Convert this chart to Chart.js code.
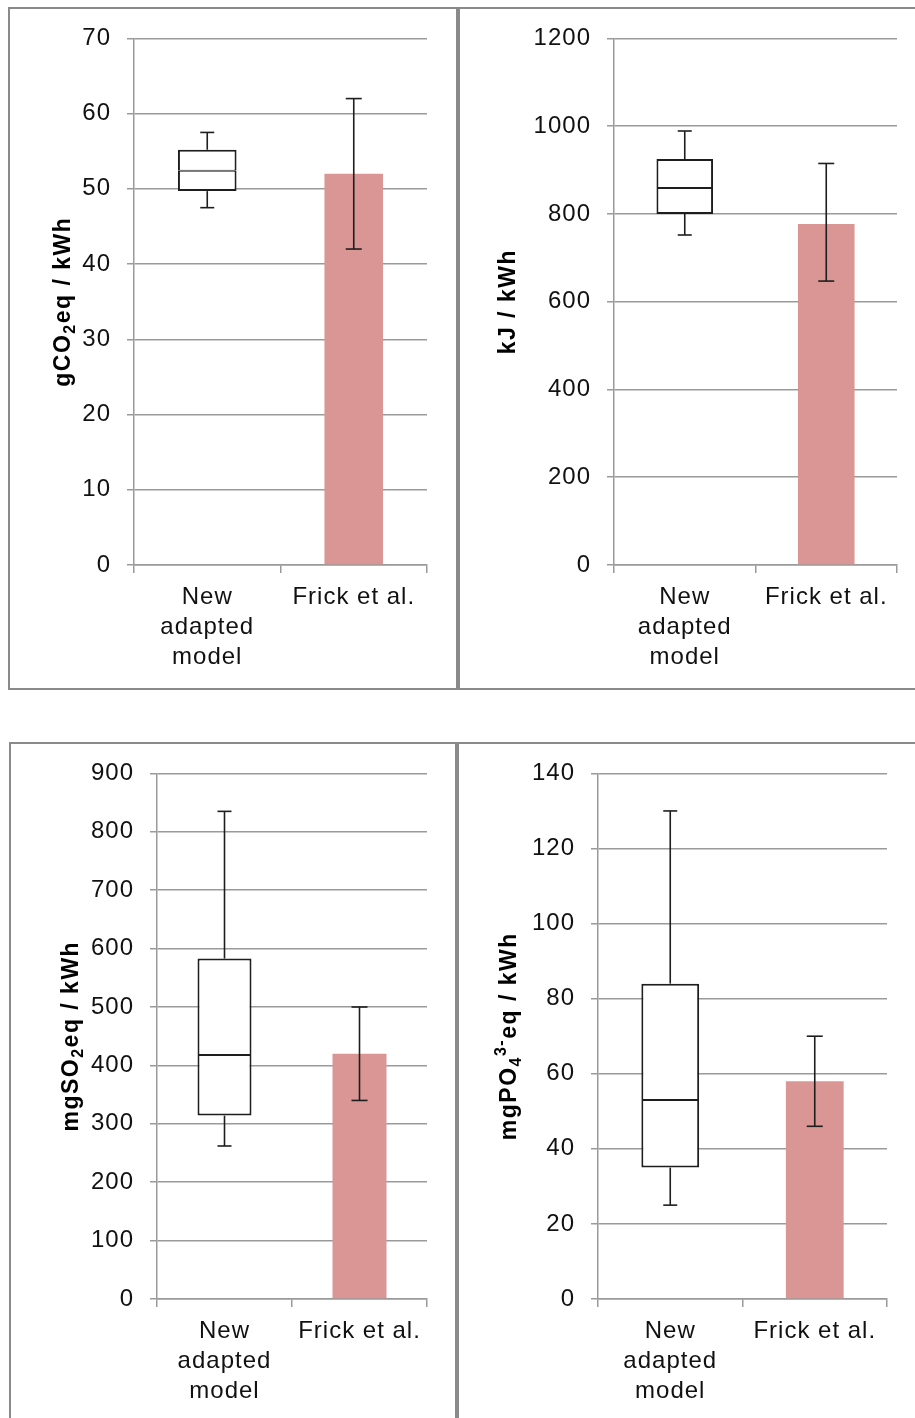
<!DOCTYPE html>
<html>
<head>
<meta charset="utf-8">
<script src="https://cdn.jsdelivr.net/npm/chart.js@4.4.1/dist/chart.umd.min.js"></script>
<style>
  body { margin: 0; background: #fff; width: 915px; height: 1418px; position: relative; overflow: hidden; }
  .frame { position: absolute; border: 2px solid #8a8a8a; box-sizing: border-box; }
  canvas { position: absolute; }
</style>
</head>
<body>
<div class="frame" style="left:8px;top:7px;width:450px;height:683px"></div>
<div class="frame" style="left:458px;top:7px;width:470px;height:683px"></div>
<div class="frame" style="left:9px;top:742px;width:448px;height:700px"></div>
<div class="frame" style="left:457px;top:742px;width:470px;height:700px"></div>
<canvas id="c0"></canvas>
<canvas id="c1"></canvas>
<canvas id="c2"></canvas>
<canvas id="c3"></canvas>
<script>
// categories and axis ranges
var categories = [['New', 'adapted', 'model'], 'Frick et al.'];
var yMax  = [70, 1200, 900, 140];
var yStep = [10, 200, 100, 20];

// axis titles, split into [text, script] pieces (0 normal, -1 subscript, 1 superscript)
var titleParts = [
  [['gCO', 0], ['2', -1], ['eq / kWh', 0]],
  [['kJ / kWh', 0]],
  [['mgSO', 0], ['2', -1], ['eq / kWh', 0]],
  [['mgPO', 0], ['4', -1], ['3-', 1], ['eq / kWh', 0]]
];

// new adapted model (box plot)
var newMin    = [47.5, 752, 262, 25];
var newQ1     = [49.7, 800, 314, 35];
var newMedian = [52.4, 859, 418, 53];
var newQ3     = [55.2, 925, 583, 84];
var newMax    = [57.5, 989, 835, 130];

// Frick et al. (bar + error range)
var frickValue = [52, 777, 420, 58];
var frickLow   = [42, 647, 340, 46];
var frickHigh  = [62, 915, 500, 70];

// where each chart sits on the page
var panels = [
  { left: 9,   top: 8,   width: 447, height: 680, axisW: 125, padRight: 29, axisH: 123, titleX: 55 },
  { left: 459, top: 8,   width: 456, height: 680, axisW: 155, padRight: 18, axisH: 123, titleX: 50 },
  { left: 10,  top: 743, width: 445, height: 675, axisW: 147, padRight: 28, axisH: 119, titleX: 62 },
  { left: 458, top: 743, width: 457, height: 675, axisW: 140, padRight: 28, axisH: 119, titleX: 52 }
];

var gridColor = '#9a9a9a';
var inkColor = '#1e1e1e';
var frickColor = '#d99694';

Chart.defaults.font.family = '"Liberation Sans", Arial, sans-serif';
Chart.defaults.color = '#111';

var spacing = {
  id: 'spacing',
  beforeUpdate: function (chart) { chart.ctx.letterSpacing = '1px'; },
  beforeDraw: function (chart) { chart.ctx.letterSpacing = '1px'; }
};

function whiskers(i) {
  return {
    id: 'whiskers',
    afterDatasetsDraw: function (chart) {
      var ctx = chart.ctx, x = chart.scales.x, y = chart.scales.y;
      ctx.save();
      ctx.strokeStyle = inkColor;
      ctx.lineWidth = 1.6;
      function vline(px, a, b) {
        ctx.beginPath();
        ctx.moveTo(px, y.getPixelForValue(a));
        ctx.lineTo(px, y.getPixelForValue(b));
        ctx.stroke();
      }
      function cap(px, v, w) {
        var py = y.getPixelForValue(v);
        ctx.beginPath();
        ctx.moveTo(px - w / 2, py);
        ctx.lineTo(px + w / 2, py);
        ctx.stroke();
      }
      var x0 = x.getPixelForValue(0);
      vline(x0, newQ3[i], newMax[i]);
      vline(x0, newMin[i], newQ1[i]);
      cap(x0, newMax[i], 14);
      cap(x0, newMin[i], 14);
      var x1 = x.getPixelForValue(1);
      vline(x1, frickLow[i], frickHigh[i]);
      cap(x1, frickHigh[i], 16);
      cap(x1, frickLow[i], 16);
      ctx.restore();
    }
  };
}

function axisTitle(i) {
  return {
    id: 'axisTitle',
    afterDraw: function (chart) {
      var ctx = chart.ctx, area = chart.chartArea;
      var size = 23;
      var parts = titleParts[i];
      ctx.save();
      ctx.letterSpacing = '1.5px';
      ctx.fillStyle = '#000';
      ctx.textBaseline = 'middle';
      function fontFor(s) {
        return 'bold ' + (s === 0 ? size : Math.round(size * 0.68)) + 'px "Liberation Sans", Arial, sans-serif';
      }
      var total = 0;
      parts.forEach(function (p) { ctx.font = fontFor(p[1]); total += ctx.measureText(p[0]).width; });
      ctx.translate(panels[i].titleX, (area.top + area.bottom) / 2);
      ctx.rotate(-Math.PI / 2);
      var pos = -total / 2;
      parts.forEach(function (p) {
        ctx.font = fontFor(p[1]);
        var dy = p[1] === -1 ? size * 0.3 : (p[1] === 1 ? -size * 0.38 : 0);
        ctx.fillText(p[0], pos, dy);
        pos += ctx.measureText(p[0]).width;
      });
      ctx.restore();
    }
  };
}

function makeChart(i) {
  var p = panels[i];
  var canvas = document.getElementById('c' + i);
  canvas.style.left = p.left + 'px';
  canvas.style.top = p.top + 'px';
  canvas.width = p.width;
  canvas.height = p.height;

  var boxLow = { top: 1, bottom: 2, left: 2, right: 2 };
  var boxHigh = { top: 2, bottom: 1, left: 2, right: 2 };

  new Chart(canvas, {
    type: 'bar',
    data: {
      labels: categories,
      datasets: [
        { data: [[newQ1[i], newMedian[i]], null], backgroundColor: '#fff', borderColor: inkColor, borderWidth: boxLow, borderSkipped: false },
        { data: [[newMedian[i], newQ3[i]], null], backgroundColor: '#fff', borderColor: inkColor, borderWidth: boxHigh, borderSkipped: false },
        { data: [null, frickValue[i]], backgroundColor: frickColor, borderWidth: 0 }
      ]
    },
    options: {
      responsive: false,
      animation: false,
      devicePixelRatio: 1,
      layout: { padding: { left: 0, top: 30, right: p.padRight, bottom: 0 } },
      datasets: { bar: { grouped: false, categoryPercentage: 1, barPercentage: 0.4 } },
      plugins: { legend: { display: false }, tooltip: { enabled: false } },
      scales: {
        x: {
          grid: { drawOnChartArea: false, color: gridColor, tickLength: 8, lineWidth: 1.5 },
          border: { color: gridColor, width: 1.5 },
          ticks: { color: '#111', padding: 9, maxRotation: 0, font: { size: 24, lineHeight: 1.25 } },
          afterFit: function (s) { s.height = p.axisH; }
        },
        y: {
          min: 0,
          max: yMax[i],
          ticks: { stepSize: yStep[i], color: '#111', padding: 16, font: { size: 24 }, format: { useGrouping: false } },
          grid: { color: gridColor, tickLength: 7, lineWidth: 1.5 },
          border: { color: gridColor, width: 1.5 },
          afterFit: function (s) { s.width = p.axisW; }
        }
      }
    },
    plugins: [spacing, whiskers(i), axisTitle(i)]
  });
}

for (var i = 0; i < 4; i++) makeChart(i);
</script>
</body>
</html>
